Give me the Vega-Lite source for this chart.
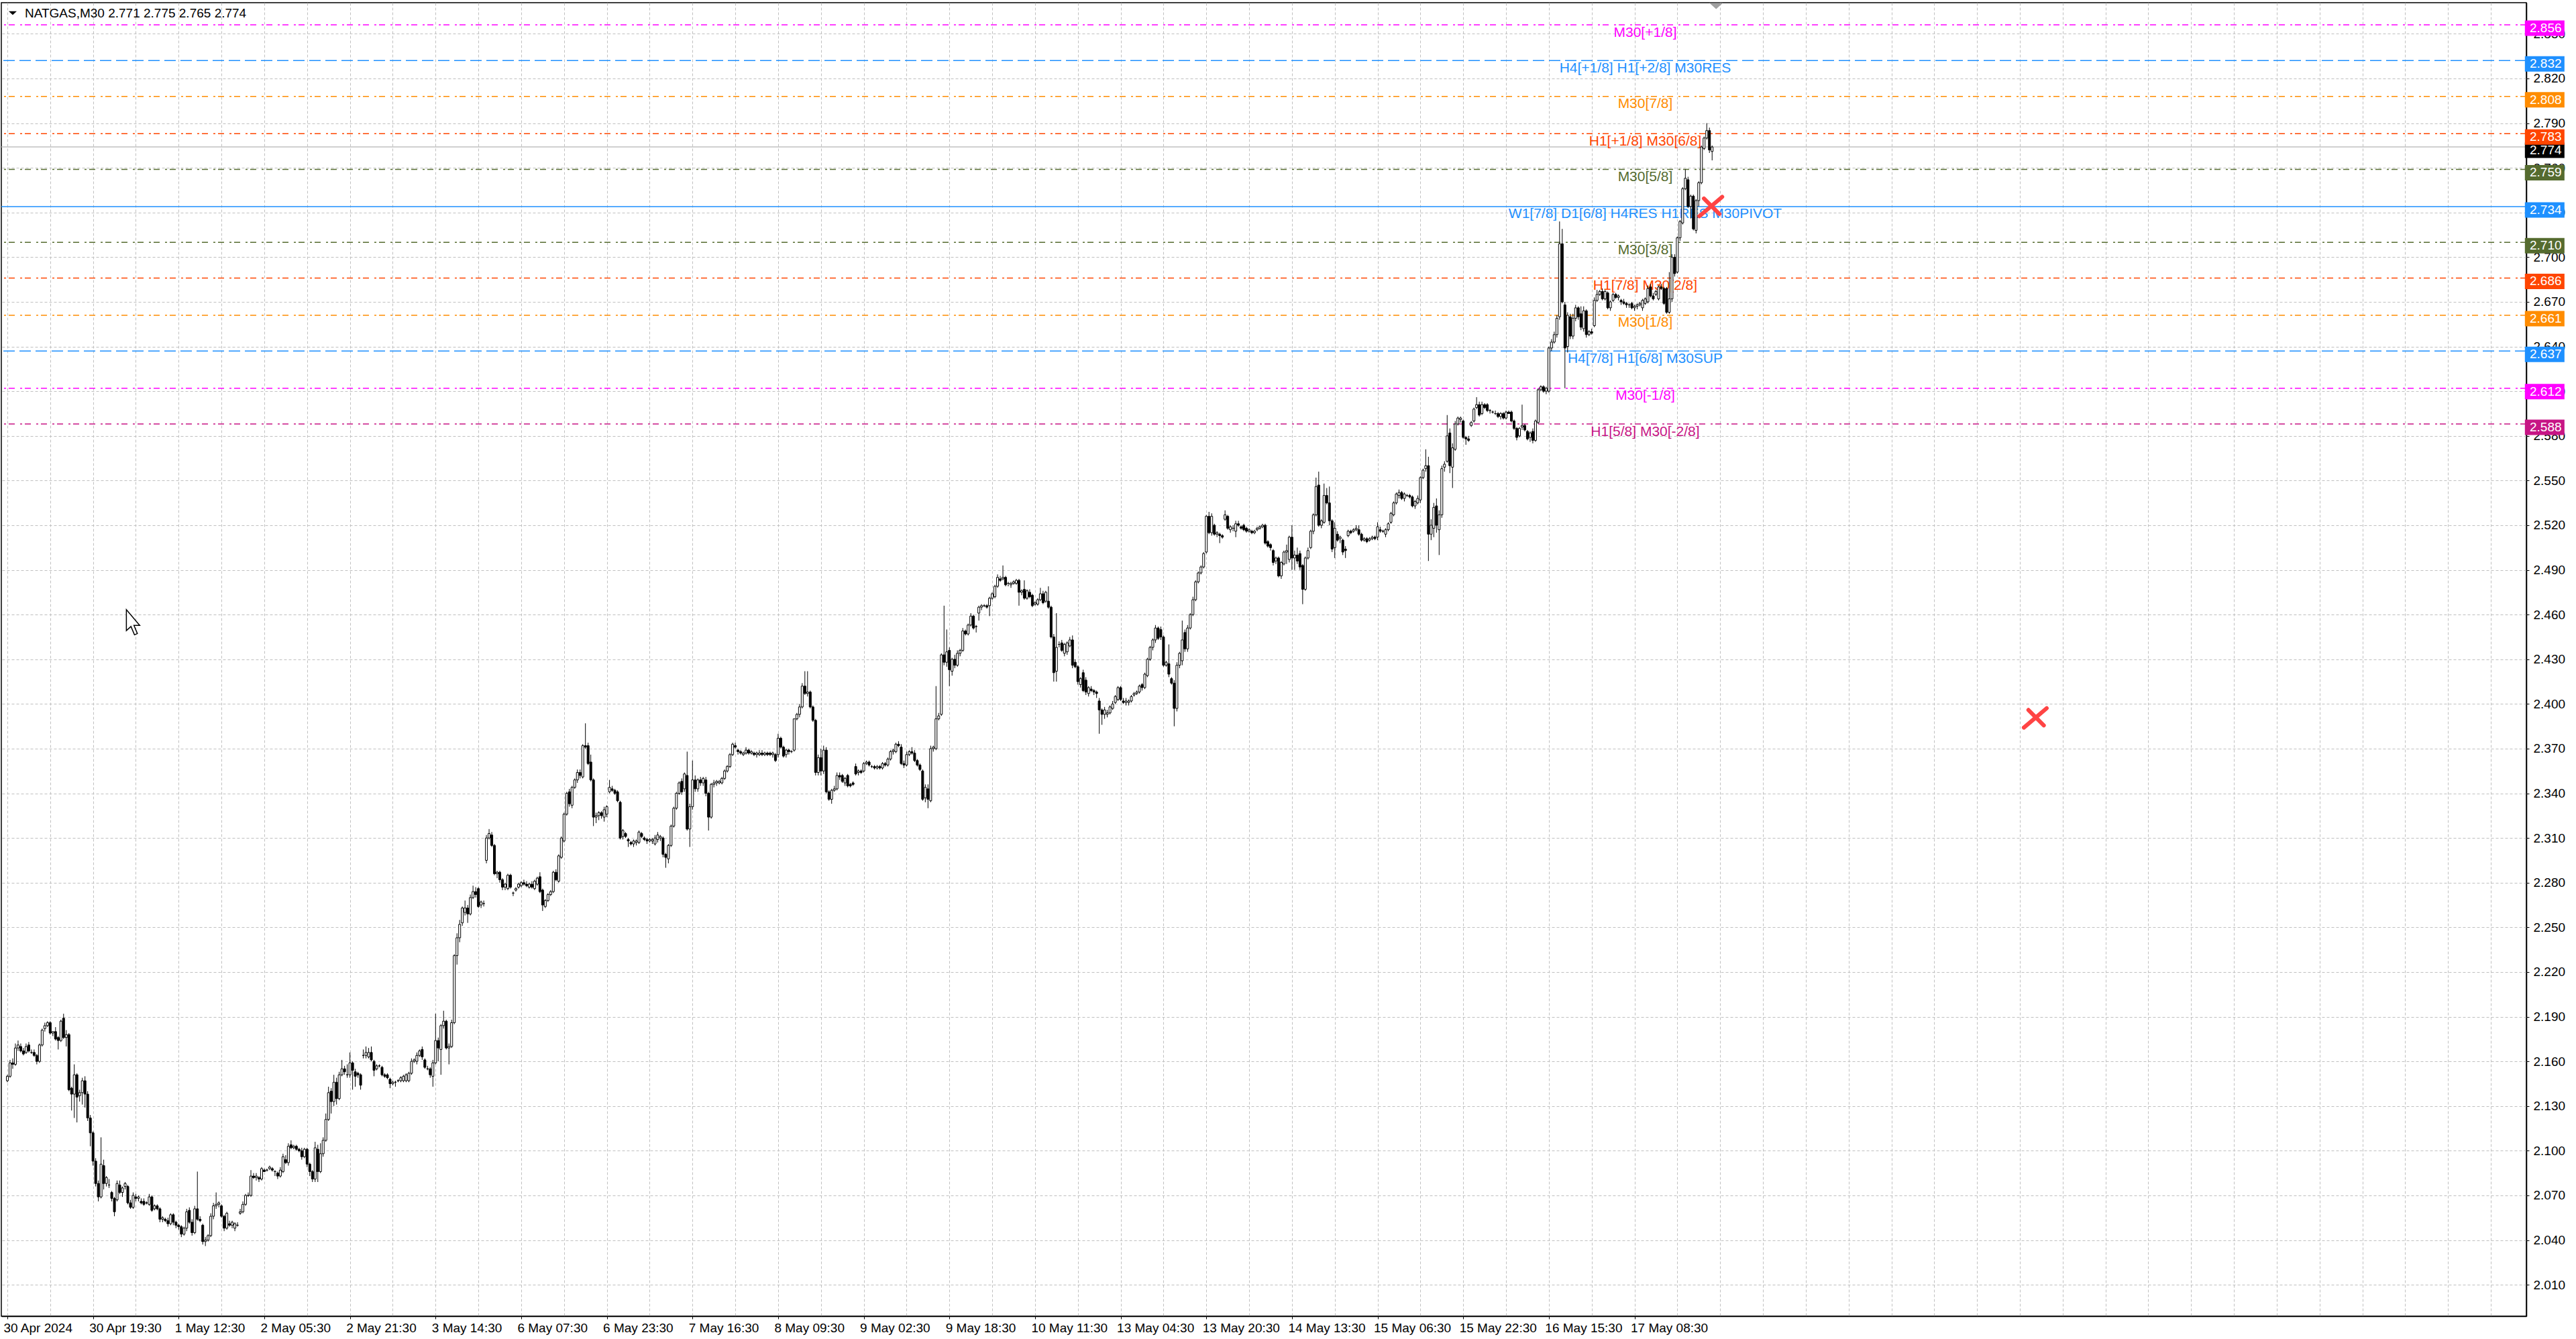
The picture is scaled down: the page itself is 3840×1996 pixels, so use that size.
{
  "$schema": "https://vega.github.io/schema/vega-lite/v6.json",
  "description": "NATGAS M30 candles with Murrey levels, MT4 style",
  "autosize": {"type": "none"},
  "width": 3764,
  "height": 1958,
  "padding": {"left": 2, "top": 4, "right": 74, "bottom": 34},
  "background": "#FFFFFF",
  "config": {
    "font": "Liberation Sans",
    "view": {"stroke": "#000000", "strokeWidth": 1.5},
    "text": {"font": "Liberation Sans"}
  },
  "datasets": {
    "candles": [
      {"i":0,"o":2.147,"h":2.151,"l":2.146,"c":2.150},{"i":1,"o":2.150,"h":2.161,"l":2.149,"c":2.159},{"i":2,"o":2.159,"h":2.162,"l":2.155,"c":2.158},{"i":3,"o":2.158,"h":2.172,"l":2.157,"c":2.169},{"i":4,"o":2.169,"h":2.174,"l":2.167,"c":2.171},{"i":5,"o":2.170,"h":2.172,"l":2.166,"c":2.167},{"i":6,"o":2.167,"h":2.169,"l":2.164,"c":2.165},{"i":7,"o":2.166,"h":2.172,"l":2.165,"c":2.170},{"i":8,"o":2.171,"h":2.173,"l":2.166,"c":2.167},{"i":9,"o":2.166,"h":2.168,"l":2.165,"c":2.166},
      {"i":10,"o":2.166,"h":2.168,"l":2.163,"c":2.164},{"i":11,"o":2.164,"h":2.165,"l":2.158,"c":2.160},{"i":12,"o":2.160,"h":2.172,"l":2.159,"c":2.171},{"i":13,"o":2.171,"h":2.182,"l":2.170,"c":2.181},{"i":14,"o":2.182,"h":2.186,"l":2.180,"c":2.184},{"i":15,"o":2.184,"h":2.187,"l":2.183,"c":2.186},{"i":16,"o":2.186,"h":2.187,"l":2.178,"c":2.179},{"i":17,"o":2.179,"h":2.180,"l":2.177,"c":2.180},{"i":18,"o":2.180,"h":2.183,"l":2.174,"c":2.175},{"i":19,"o":2.176,"h":2.177,"l":2.168,"c":2.174},
      {"i":20,"o":2.174,"h":2.188,"l":2.173,"c":2.187},{"i":21,"o":2.189,"h":2.192,"l":2.175,"c":2.176},{"i":22,"o":2.176,"h":2.181,"l":2.170,"c":2.178},{"i":23,"o":2.178,"h":2.179,"l":2.140,"c":2.141},{"i":24,"o":2.142,"h":2.143,"l":2.127,"c":2.138},{"i":25,"o":2.138,"h":2.158,"l":2.122,"c":2.151},{"i":26,"o":2.151,"h":2.152,"l":2.119,"c":2.136},{"i":27,"o":2.137,"h":2.141,"l":2.133,"c":2.139},{"i":28,"o":2.139,"h":2.149,"l":2.131,"c":2.147},{"i":29,"o":2.147,"h":2.150,"l":2.129,"c":2.138},
      {"i":30,"o":2.138,"h":2.140,"l":2.120,"c":2.122},{"i":31,"o":2.122,"h":2.124,"l":2.103,"c":2.112},{"i":32,"o":2.112,"h":2.113,"l":2.090,"c":2.093},{"i":33,"o":2.093,"h":2.095,"l":2.076,"c":2.078},{"i":34,"o":2.078,"h":2.080,"l":2.066,"c":2.069},{"i":35,"o":2.069,"h":2.109,"l":2.068,"c":2.091},{"i":36,"o":2.090,"h":2.094,"l":2.074,"c":2.078},{"i":37,"o":2.078,"h":2.083,"l":2.076,"c":2.082},{"i":38,"o":2.077,"h":2.081,"l":2.075,"c":2.077},{"i":39,"o":2.072,"h":2.073,"l":2.066,"c":2.068},
      {"i":40,"o":2.068,"h":2.069,"l":2.056,"c":2.059},{"i":41,"o":2.067,"h":2.080,"l":2.066,"c":2.078},{"i":42,"o":2.077,"h":2.080,"l":2.071,"c":2.072},{"i":43,"o":2.072,"h":2.076,"l":2.069,"c":2.075},{"i":44,"o":2.076,"h":2.079,"l":2.074,"c":2.078},{"i":45,"o":2.076,"h":2.077,"l":2.064,"c":2.065},{"i":46,"o":2.065,"h":2.067,"l":2.061,"c":2.062},{"i":47,"o":2.062,"h":2.072,"l":2.061,"c":2.070},{"i":48,"o":2.069,"h":2.071,"l":2.066,"c":2.068},{"i":49,"o":2.068,"h":2.070,"l":2.066,"c":2.069},
      {"i":50,"o":2.066,"h":2.068,"l":2.064,"c":2.065},{"i":51,"o":2.066,"h":2.068,"l":2.063,"c":2.064},{"i":52,"o":2.065,"h":2.066,"l":2.064,"c":2.065},{"i":53,"o":2.064,"h":2.071,"l":2.063,"c":2.069},{"i":54,"o":2.069,"h":2.070,"l":2.059,"c":2.060},{"i":55,"o":2.061,"h":2.064,"l":2.060,"c":2.063},{"i":56,"o":2.063,"h":2.064,"l":2.060,"c":2.061},{"i":57,"o":2.061,"h":2.062,"l":2.052,"c":2.054},{"i":58,"o":2.054,"h":2.056,"l":2.052,"c":2.055},{"i":59,"o":2.054,"h":2.055,"l":2.052,"c":2.053},
      {"i":60,"o":2.053,"h":2.055,"l":2.049,"c":2.051},{"i":61,"o":2.051,"h":2.058,"l":2.050,"c":2.057},{"i":62,"o":2.057,"h":2.058,"l":2.050,"c":2.052},{"i":63,"o":2.052,"h":2.053,"l":2.048,"c":2.050},{"i":64,"o":2.050,"h":2.051,"l":2.047,"c":2.049},{"i":65,"o":2.049,"h":2.050,"l":2.042,"c":2.044},{"i":66,"o":2.044,"h":2.049,"l":2.043,"c":2.048},{"i":67,"o":2.048,"h":2.061,"l":2.046,"c":2.059},{"i":68,"o":2.060,"h":2.062,"l":2.051,"c":2.052},{"i":69,"o":2.052,"h":2.054,"l":2.043,"c":2.045},
      {"i":70,"o":2.045,"h":2.063,"l":2.044,"c":2.061},{"i":71,"o":2.061,"h":2.086,"l":2.053,"c":2.054},{"i":72,"o":2.054,"h":2.056,"l":2.052,"c":2.053},{"i":73,"o":2.050,"h":2.051,"l":2.037,"c":2.039},{"i":74,"o":2.039,"h":2.042,"l":2.036,"c":2.040},{"i":75,"o":2.040,"h":2.044,"l":2.039,"c":2.043},{"i":76,"o":2.043,"h":2.058,"l":2.042,"c":2.056},{"i":77,"o":2.056,"h":2.065,"l":2.054,"c":2.063},{"i":78,"o":2.063,"h":2.072,"l":2.061,"c":2.064},{"i":79,"o":2.064,"h":2.066,"l":2.062,"c":2.065},
      {"i":80,"o":2.063,"h":2.064,"l":2.055,"c":2.056},{"i":81,"o":2.056,"h":2.057,"l":2.046,"c":2.048},{"i":82,"o":2.048,"h":2.059,"l":2.047,"c":2.058},{"i":83,"o":2.051,"h":2.053,"l":2.049,"c":2.050},{"i":84,"o":2.050,"h":2.053,"l":2.048,"c":2.052},{"i":85,"o":2.048,"h":2.052,"l":2.046,"c":2.051},{"i":86,"o":2.050,"h":2.052,"l":2.049,"c":2.050},{"i":87,"o":2.058,"h":2.061,"l":2.057,"c":2.059},{"i":88,"o":2.059,"h":2.066,"l":2.058,"c":2.064},{"i":89,"o":2.064,"h":2.071,"l":2.063,"c":2.070},
      {"i":90,"o":2.070,"h":2.072,"l":2.069,"c":2.070},{"i":91,"o":2.070,"h":2.087,"l":2.069,"c":2.083},{"i":92,"o":2.083,"h":2.085,"l":2.081,"c":2.082},{"i":93,"o":2.082,"h":2.085,"l":2.080,"c":2.083},{"i":94,"o":2.082,"h":2.083,"l":2.079,"c":2.081},{"i":95,"o":2.081,"h":2.089,"l":2.080,"c":2.088},{"i":96,"o":2.087,"h":2.088,"l":2.086,"c":2.086},{"i":97,"o":2.087,"h":2.088,"l":2.086,"c":2.087},{"i":98,"o":2.088,"h":2.090,"l":2.087,"c":2.089},{"i":99,"o":2.088,"h":2.089,"l":2.086,"c":2.087},
      {"i":100,"o":2.086,"h":2.087,"l":2.083,"c":2.086},{"i":101,"o":2.085,"h":2.086,"l":2.081,"c":2.083},{"i":102,"o":2.083,"h":2.089,"l":2.082,"c":2.087},{"i":103,"o":2.086,"h":2.098,"l":2.085,"c":2.096},{"i":104,"o":2.094,"h":2.097,"l":2.091,"c":2.092},{"i":105,"o":2.092,"h":2.105,"l":2.090,"c":2.103},{"i":106,"o":2.104,"h":2.107,"l":2.101,"c":2.102},{"i":107,"o":2.102,"h":2.104,"l":2.101,"c":2.103},{"i":108,"o":2.103,"h":2.104,"l":2.100,"c":2.101},{"i":109,"o":2.101,"h":2.102,"l":2.099,"c":2.100},
      {"i":110,"o":2.100,"h":2.102,"l":2.094,"c":2.096},{"i":111,"o":2.096,"h":2.102,"l":2.095,"c":2.101},{"i":112,"o":2.101,"h":2.102,"l":2.089,"c":2.091},{"i":113,"o":2.091,"h":2.092,"l":2.083,"c":2.086},{"i":114,"o":2.086,"h":2.087,"l":2.079,"c":2.081},{"i":115,"o":2.081,"h":2.106,"l":2.079,"c":2.102},{"i":116,"o":2.101,"h":2.104,"l":2.079,"c":2.086},{"i":117,"o":2.086,"h":2.105,"l":2.085,"c":2.098},{"i":118,"o":2.098,"h":2.109,"l":2.096,"c":2.107},{"i":119,"o":2.107,"h":2.125,"l":2.106,"c":2.121},
      {"i":120,"o":2.121,"h":2.143,"l":2.120,"c":2.139},{"i":121,"o":2.140,"h":2.142,"l":2.125,"c":2.133},{"i":122,"o":2.133,"h":2.151,"l":2.130,"c":2.146},{"i":123,"o":2.146,"h":2.149,"l":2.131,"c":2.135},{"i":124,"o":2.135,"h":2.153,"l":2.134,"c":2.151},{"i":125,"o":2.151,"h":2.161,"l":2.150,"c":2.155},{"i":126,"o":2.155,"h":2.157,"l":2.151,"c":2.153},{"i":127,"o":2.151,"h":2.158,"l":2.149,"c":2.151},{"i":128,"o":2.151,"h":2.166,"l":2.149,"c":2.159},{"i":129,"o":2.159,"h":2.160,"l":2.141,"c":2.154},
      {"i":130,"o":2.153,"h":2.155,"l":2.143,"c":2.150},{"i":131,"o":2.152,"h":2.153,"l":2.149,"c":2.151},{"i":132,"o":2.151,"h":2.152,"l":2.141,"c":2.144},{"i":133,"o":2.164,"h":2.168,"l":2.162,"c":2.164},{"i":134,"o":2.164,"h":2.170,"l":2.162,"c":2.166},{"i":135,"o":2.163,"h":2.169,"l":2.162,"c":2.166},{"i":136,"o":2.166,"h":2.170,"l":2.160,"c":2.161},{"i":137,"o":2.160,"h":2.161,"l":2.150,"c":2.154},{"i":138,"o":2.155,"h":2.158,"l":2.154,"c":2.157},{"i":139,"o":2.157,"h":2.158,"l":2.156,"c":2.157},
      {"i":140,"o":2.156,"h":2.157,"l":2.150,"c":2.151},{"i":141,"o":2.151,"h":2.152,"l":2.149,"c":2.150},{"i":142,"o":2.151,"h":2.152,"l":2.148,"c":2.149},{"i":143,"o":2.148,"h":2.149,"l":2.142,"c":2.145},{"i":144,"o":2.145,"h":2.147,"l":2.144,"c":2.146},{"i":145,"o":2.146,"h":2.147,"l":2.143,"c":2.146},{"i":146,"o":2.147,"h":2.148,"l":2.146,"c":2.147},{"i":147,"o":2.147,"h":2.150,"l":2.146,"c":2.149},{"i":148,"o":2.147,"h":2.151,"l":2.146,"c":2.150},{"i":149,"o":2.147,"h":2.152,"l":2.146,"c":2.151},
      {"i":150,"o":2.147,"h":2.153,"l":2.146,"c":2.152},{"i":151,"o":2.152,"h":2.162,"l":2.151,"c":2.160},{"i":152,"o":2.160,"h":2.162,"l":2.159,"c":2.161},{"i":153,"o":2.160,"h":2.166,"l":2.158,"c":2.164},{"i":154,"o":2.164,"h":2.168,"l":2.163,"c":2.167},{"i":155,"o":2.168,"h":2.170,"l":2.161,"c":2.163},{"i":156,"o":2.161,"h":2.162,"l":2.155,"c":2.156},{"i":157,"o":2.155,"h":2.157,"l":2.154,"c":2.155},{"i":158,"o":2.155,"h":2.156,"l":2.149,"c":2.151},{"i":159,"o":2.150,"h":2.161,"l":2.143,"c":2.159},
      {"i":160,"o":2.159,"h":2.192,"l":2.158,"c":2.174},{"i":161,"o":2.174,"h":2.176,"l":2.160,"c":2.169},{"i":162,"o":2.168,"h":2.185,"l":2.151,"c":2.184},{"i":163,"o":2.184,"h":2.194,"l":2.182,"c":2.187},{"i":164,"o":2.187,"h":2.188,"l":2.168,"c":2.169},{"i":165,"o":2.169,"h":2.172,"l":2.158,"c":2.170},{"i":166,"o":2.170,"h":2.188,"l":2.169,"c":2.186},{"i":167,"o":2.186,"h":2.232,"l":2.185,"c":2.231},{"i":168,"o":2.231,"h":2.246,"l":2.225,"c":2.243},{"i":169,"o":2.243,"h":2.255,"l":2.240,"c":2.252},
      {"i":170,"o":2.253,"h":2.264,"l":2.251,"c":2.263},{"i":171,"o":2.260,"h":2.268,"l":2.258,"c":2.263},{"i":172,"o":2.263,"h":2.265,"l":2.253,"c":2.259},{"i":173,"o":2.259,"h":2.272,"l":2.258,"c":2.270},{"i":174,"o":2.270,"h":2.278,"l":2.269,"c":2.274},{"i":175,"o":2.274,"h":2.277,"l":2.270,"c":2.272},{"i":176,"o":2.276,"h":2.277,"l":2.263,"c":2.264},{"i":177,"o":2.265,"h":2.268,"l":2.263,"c":2.267},{"i":178,"o":2.266,"h":2.268,"l":2.264,"c":2.266},{"i":179,"o":2.295,"h":2.312,"l":2.293,"c":2.310},
      {"i":180,"o":2.310,"h":2.316,"l":2.309,"c":2.313},{"i":181,"o":2.312,"h":2.314,"l":2.304,"c":2.305},{"i":182,"o":2.305,"h":2.306,"l":2.285,"c":2.286},{"i":183,"o":2.286,"h":2.288,"l":2.283,"c":2.287},{"i":184,"o":2.287,"h":2.288,"l":2.280,"c":2.282},{"i":185,"o":2.282,"h":2.283,"l":2.275,"c":2.277},{"i":186,"o":2.277,"h":2.280,"l":2.275,"c":2.279},{"i":187,"o":2.276,"h":2.286,"l":2.275,"c":2.285},{"i":188,"o":2.285,"h":2.286,"l":2.276,"c":2.277},{"i":189,"o":2.273,"h":2.274,"l":2.271,"c":2.273},
      {"i":190,"o":2.275,"h":2.277,"l":2.274,"c":2.276},{"i":191,"o":2.277,"h":2.280,"l":2.276,"c":2.279},{"i":192,"o":2.278,"h":2.281,"l":2.277,"c":2.280},{"i":193,"o":2.280,"h":2.282,"l":2.278,"c":2.279},{"i":194,"o":2.279,"h":2.281,"l":2.277,"c":2.278},{"i":195,"o":2.277,"h":2.280,"l":2.276,"c":2.279},{"i":196,"o":2.279,"h":2.281,"l":2.276,"c":2.277},{"i":197,"o":2.276,"h":2.282,"l":2.275,"c":2.281},{"i":198,"o":2.279,"h":2.284,"l":2.278,"c":2.283},{"i":199,"o":2.284,"h":2.287,"l":2.273,"c":2.274},
      {"i":200,"o":2.275,"h":2.276,"l":2.261,"c":2.265},{"i":201,"o":2.264,"h":2.269,"l":2.263,"c":2.268},{"i":202,"o":2.268,"h":2.273,"l":2.267,"c":2.272},{"i":203,"o":2.272,"h":2.275,"l":2.271,"c":2.274},{"i":204,"o":2.274,"h":2.288,"l":2.273,"c":2.287},{"i":205,"o":2.287,"h":2.289,"l":2.281,"c":2.282},{"i":206,"o":2.281,"h":2.299,"l":2.280,"c":2.298},{"i":207,"o":2.297,"h":2.311,"l":2.296,"c":2.310},{"i":208,"o":2.308,"h":2.327,"l":2.307,"c":2.326},{"i":209,"o":2.326,"h":2.341,"l":2.325,"c":2.340},
      {"i":210,"o":2.341,"h":2.343,"l":2.331,"c":2.333},{"i":211,"o":2.332,"h":2.345,"l":2.330,"c":2.344},{"i":212,"o":2.344,"h":2.350,"l":2.343,"c":2.349},{"i":213,"o":2.349,"h":2.356,"l":2.347,"c":2.354},{"i":214,"o":2.354,"h":2.356,"l":2.350,"c":2.352},{"i":215,"o":2.351,"h":2.373,"l":2.350,"c":2.372},{"i":216,"o":2.372,"h":2.387,"l":2.370,"c":2.371},{"i":217,"o":2.372,"h":2.374,"l":2.359,"c":2.360},{"i":218,"o":2.361,"h":2.366,"l":2.348,"c":2.349},{"i":219,"o":2.349,"h":2.350,"l":2.318,"c":2.324},
      {"i":220,"o":2.324,"h":2.327,"l":2.320,"c":2.325},{"i":221,"o":2.325,"h":2.328,"l":2.322,"c":2.327},{"i":222,"o":2.327,"h":2.328,"l":2.323,"c":2.325},{"i":223,"o":2.324,"h":2.331,"l":2.321,"c":2.329},{"i":224,"o":2.326,"h":2.332,"l":2.324,"c":2.331},{"i":225,"o":2.341,"h":2.349,"l":2.340,"c":2.344},{"i":226,"o":2.343,"h":2.345,"l":2.341,"c":2.342},{"i":227,"o":2.342,"h":2.343,"l":2.339,"c":2.340},{"i":228,"o":2.341,"h":2.342,"l":2.334,"c":2.335},{"i":229,"o":2.334,"h":2.335,"l":2.309,"c":2.310},
      {"i":230,"o":2.311,"h":2.316,"l":2.309,"c":2.315},{"i":231,"o":2.313,"h":2.314,"l":2.310,"c":2.311},{"i":232,"o":2.309,"h":2.310,"l":2.304,"c":2.308},{"i":233,"o":2.307,"h":2.308,"l":2.305,"c":2.306},{"i":234,"o":2.306,"h":2.309,"l":2.304,"c":2.308},{"i":235,"o":2.307,"h":2.309,"l":2.305,"c":2.308},{"i":236,"o":2.307,"h":2.315,"l":2.306,"c":2.314},{"i":237,"o":2.313,"h":2.314,"l":2.310,"c":2.311},{"i":238,"o":2.310,"h":2.311,"l":2.308,"c":2.309},{"i":239,"o":2.309,"h":2.310,"l":2.306,"c":2.308},
      {"i":240,"o":2.308,"h":2.310,"l":2.307,"c":2.309},{"i":241,"o":2.308,"h":2.310,"l":2.306,"c":2.309},{"i":242,"o":2.306,"h":2.312,"l":2.305,"c":2.310},{"i":243,"o":2.309,"h":2.314,"l":2.307,"c":2.312},{"i":244,"o":2.310,"h":2.312,"l":2.308,"c":2.311},{"i":245,"o":2.310,"h":2.311,"l":2.297,"c":2.299},{"i":246,"o":2.299,"h":2.300,"l":2.290,"c":2.297},{"i":247,"o":2.296,"h":2.306,"l":2.293,"c":2.305},{"i":248,"o":2.305,"h":2.319,"l":2.304,"c":2.318},{"i":249,"o":2.318,"h":2.331,"l":2.317,"c":2.330},
      {"i":250,"o":2.330,"h":2.341,"l":2.329,"c":2.340},{"i":251,"o":2.340,"h":2.348,"l":2.339,"c":2.347},{"i":252,"o":2.348,"h":2.350,"l":2.339,"c":2.341},{"i":253,"o":2.343,"h":2.354,"l":2.341,"c":2.353},{"i":254,"o":2.352,"h":2.368,"l":2.315,"c":2.316},{"i":255,"o":2.316,"h":2.333,"l":2.304,"c":2.331},{"i":256,"o":2.331,"h":2.362,"l":2.329,"c":2.349},{"i":257,"o":2.349,"h":2.352,"l":2.341,"c":2.343},{"i":258,"o":2.343,"h":2.350,"l":2.341,"c":2.349},{"i":259,"o":2.349,"h":2.351,"l":2.345,"c":2.347},
      {"i":260,"o":2.347,"h":2.351,"l":2.345,"c":2.350},{"i":261,"o":2.349,"h":2.351,"l":2.338,"c":2.340},{"i":262,"o":2.340,"h":2.341,"l":2.315,"c":2.324},{"i":263,"o":2.324,"h":2.347,"l":2.323,"c":2.346},{"i":264,"o":2.346,"h":2.349,"l":2.344,"c":2.347},{"i":265,"o":2.347,"h":2.349,"l":2.345,"c":2.348},{"i":266,"o":2.347,"h":2.349,"l":2.346,"c":2.348},{"i":267,"o":2.347,"h":2.351,"l":2.346,"c":2.350},{"i":268,"o":2.350,"h":2.356,"l":2.349,"c":2.355},{"i":269,"o":2.355,"h":2.359,"l":2.354,"c":2.358},
      {"i":270,"o":2.358,"h":2.367,"l":2.357,"c":2.366},{"i":271,"o":2.366,"h":2.374,"l":2.365,"c":2.373},{"i":272,"o":2.372,"h":2.374,"l":2.370,"c":2.371},{"i":273,"o":2.369,"h":2.370,"l":2.366,"c":2.368},{"i":274,"o":2.368,"h":2.369,"l":2.366,"c":2.367},{"i":275,"o":2.366,"h":2.368,"l":2.365,"c":2.367},{"i":276,"o":2.367,"h":2.371,"l":2.366,"c":2.369},{"i":277,"o":2.369,"h":2.370,"l":2.366,"c":2.367},{"i":278,"o":2.367,"h":2.369,"l":2.366,"c":2.368},{"i":279,"o":2.367,"h":2.368,"l":2.365,"c":2.366},
      {"i":280,"o":2.366,"h":2.368,"l":2.364,"c":2.367},{"i":281,"o":2.366,"h":2.369,"l":2.365,"c":2.367},{"i":282,"o":2.367,"h":2.369,"l":2.365,"c":2.366},{"i":283,"o":2.366,"h":2.368,"l":2.365,"c":2.367},{"i":284,"o":2.367,"h":2.368,"l":2.365,"c":2.366},{"i":285,"o":2.367,"h":2.368,"l":2.365,"c":2.366},{"i":286,"o":2.366,"h":2.368,"l":2.364,"c":2.367},{"i":287,"o":2.366,"h":2.367,"l":2.361,"c":2.362},{"i":288,"o":2.366,"h":2.380,"l":2.364,"c":2.377},{"i":289,"o":2.377,"h":2.378,"l":2.370,"c":2.371},
      {"i":290,"o":2.371,"h":2.372,"l":2.364,"c":2.365},{"i":291,"o":2.366,"h":2.370,"l":2.364,"c":2.369},{"i":292,"o":2.369,"h":2.370,"l":2.366,"c":2.368},{"i":293,"o":2.368,"h":2.369,"l":2.367,"c":2.368},{"i":294,"o":2.369,"h":2.390,"l":2.368,"c":2.390},{"i":295,"o":2.390,"h":2.394,"l":2.389,"c":2.393},{"i":296,"o":2.393,"h":2.400,"l":2.391,"c":2.398},{"i":297,"o":2.398,"h":2.414,"l":2.397,"c":2.412},{"i":298,"o":2.412,"h":2.422,"l":2.406,"c":2.407},{"i":299,"o":2.407,"h":2.422,"l":2.405,"c":2.408},
      {"i":300,"o":2.408,"h":2.409,"l":2.397,"c":2.398},{"i":301,"o":2.398,"h":2.399,"l":2.388,"c":2.389},{"i":302,"o":2.389,"h":2.390,"l":2.352,"c":2.354},{"i":303,"o":2.354,"h":2.366,"l":2.352,"c":2.364},{"i":304,"o":2.364,"h":2.370,"l":2.352,"c":2.355},{"i":305,"o":2.355,"h":2.372,"l":2.353,"c":2.369},{"i":306,"o":2.369,"h":2.371,"l":2.340,"c":2.341},{"i":307,"o":2.341,"h":2.342,"l":2.335,"c":2.336},{"i":308,"o":2.336,"h":2.343,"l":2.333,"c":2.342},{"i":309,"o":2.342,"h":2.345,"l":2.341,"c":2.343},
      {"i":310,"o":2.343,"h":2.354,"l":2.342,"c":2.352},{"i":311,"o":2.352,"h":2.354,"l":2.349,"c":2.351},{"i":312,"o":2.352,"h":2.353,"l":2.347,"c":2.348},{"i":313,"o":2.347,"h":2.351,"l":2.345,"c":2.350},{"i":314,"o":2.352,"h":2.353,"l":2.344,"c":2.345},{"i":315,"o":2.346,"h":2.347,"l":2.344,"c":2.345},{"i":316,"o":2.347,"h":2.348,"l":2.345,"c":2.346},{"i":317,"o":2.358,"h":2.360,"l":2.352,"c":2.353},{"i":318,"o":2.354,"h":2.356,"l":2.352,"c":2.355},{"i":319,"o":2.355,"h":2.356,"l":2.353,"c":2.354},
      {"i":320,"o":2.355,"h":2.361,"l":2.354,"c":2.360},{"i":321,"o":2.360,"h":2.362,"l":2.359,"c":2.361},{"i":322,"o":2.361,"h":2.362,"l":2.358,"c":2.359},{"i":323,"o":2.358,"h":2.359,"l":2.357,"c":2.358},{"i":324,"o":2.358,"h":2.359,"l":2.356,"c":2.357},{"i":325,"o":2.357,"h":2.359,"l":2.356,"c":2.358},{"i":326,"o":2.358,"h":2.359,"l":2.356,"c":2.357},{"i":327,"o":2.357,"h":2.361,"l":2.356,"c":2.360},{"i":328,"o":2.360,"h":2.361,"l":2.358,"c":2.359},{"i":329,"o":2.359,"h":2.364,"l":2.358,"c":2.363},
      {"i":330,"o":2.363,"h":2.369,"l":2.362,"c":2.368},{"i":331,"o":2.368,"h":2.370,"l":2.366,"c":2.369},{"i":332,"o":2.368,"h":2.374,"l":2.367,"c":2.373},{"i":333,"o":2.373,"h":2.375,"l":2.371,"c":2.372},{"i":334,"o":2.371,"h":2.373,"l":2.359,"c":2.360},{"i":335,"o":2.360,"h":2.362,"l":2.357,"c":2.359},{"i":336,"o":2.359,"h":2.368,"l":2.358,"c":2.366},{"i":337,"o":2.366,"h":2.369,"l":2.365,"c":2.368},{"i":338,"o":2.368,"h":2.371,"l":2.366,"c":2.367},{"i":339,"o":2.367,"h":2.369,"l":2.361,"c":2.362},
      {"i":340,"o":2.362,"h":2.363,"l":2.358,"c":2.359},{"i":341,"o":2.359,"h":2.360,"l":2.355,"c":2.356},{"i":342,"o":2.355,"h":2.356,"l":2.335,"c":2.336},{"i":343,"o":2.337,"h":2.346,"l":2.334,"c":2.344},{"i":344,"o":2.343,"h":2.346,"l":2.330,"c":2.336},{"i":345,"o":2.335,"h":2.372,"l":2.334,"c":2.370},{"i":346,"o":2.370,"h":2.372,"l":2.368,"c":2.371},{"i":347,"o":2.370,"h":2.412,"l":2.369,"c":2.390},{"i":348,"o":2.390,"h":2.394,"l":2.389,"c":2.392},{"i":349,"o":2.393,"h":2.434,"l":2.392,"c":2.433},
      {"i":350,"o":2.433,"h":2.466,"l":2.426,"c":2.428},{"i":351,"o":2.428,"h":2.450,"l":2.425,"c":2.435},{"i":352,"o":2.436,"h":2.438,"l":2.412,"c":2.423},{"i":353,"o":2.422,"h":2.431,"l":2.419,"c":2.430},{"i":354,"o":2.430,"h":2.433,"l":2.424,"c":2.426},{"i":355,"o":2.426,"h":2.436,"l":2.425,"c":2.434},{"i":356,"o":2.434,"h":2.437,"l":2.432,"c":2.436},{"i":357,"o":2.436,"h":2.451,"l":2.435,"c":2.449},{"i":358,"o":2.449,"h":2.450,"l":2.446,"c":2.447},{"i":359,"o":2.447,"h":2.454,"l":2.446,"c":2.453},
      {"i":360,"o":2.453,"h":2.461,"l":2.452,"c":2.459},{"i":361,"o":2.459,"h":2.460,"l":2.450,"c":2.451},{"i":362,"o":2.452,"h":2.453,"l":2.448,"c":2.452},{"i":363,"o":2.461,"h":2.466,"l":2.456,"c":2.465},{"i":364,"o":2.465,"h":2.467,"l":2.463,"c":2.466},{"i":365,"o":2.466,"h":2.467,"l":2.465,"c":2.466},{"i":366,"o":2.466,"h":2.467,"l":2.464,"c":2.465},{"i":367,"o":2.466,"h":2.472,"l":2.459,"c":2.471},{"i":368,"o":2.471,"h":2.475,"l":2.470,"c":2.474},{"i":369,"o":2.472,"h":2.480,"l":2.471,"c":2.479},
      {"i":370,"o":2.479,"h":2.487,"l":2.478,"c":2.485},{"i":371,"o":2.484,"h":2.486,"l":2.482,"c":2.483},{"i":372,"o":2.484,"h":2.493,"l":2.483,"c":2.485},{"i":373,"o":2.485,"h":2.486,"l":2.479,"c":2.480},{"i":374,"o":2.481,"h":2.482,"l":2.479,"c":2.481},{"i":375,"o":2.480,"h":2.482,"l":2.478,"c":2.481},{"i":376,"o":2.481,"h":2.483,"l":2.480,"c":2.482},{"i":377,"o":2.481,"h":2.484,"l":2.480,"c":2.483},{"i":378,"o":2.483,"h":2.484,"l":2.466,"c":2.475},{"i":379,"o":2.475,"h":2.477,"l":2.473,"c":2.476},
      {"i":380,"o":2.477,"h":2.483,"l":2.470,"c":2.471},{"i":381,"o":2.471,"h":2.477,"l":2.470,"c":2.476},{"i":382,"o":2.475,"h":2.477,"l":2.471,"c":2.472},{"i":383,"o":2.473,"h":2.474,"l":2.465,"c":2.466},{"i":384,"o":2.467,"h":2.469,"l":2.466,"c":2.468},{"i":385,"o":2.467,"h":2.471,"l":2.466,"c":2.470},{"i":386,"o":2.470,"h":2.478,"l":2.469,"c":2.474},{"i":387,"o":2.474,"h":2.476,"l":2.467,"c":2.468},{"i":388,"o":2.469,"h":2.476,"l":2.468,"c":2.475},{"i":389,"o":2.469,"h":2.479,"l":2.464,"c":2.465},
      {"i":390,"o":2.465,"h":2.466,"l":2.444,"c":2.445},{"i":391,"o":2.445,"h":2.447,"l":2.415,"c":2.421},{"i":392,"o":2.422,"h":2.461,"l":2.415,"c":2.438},{"i":393,"o":2.440,"h":2.442,"l":2.438,"c":2.440},{"i":394,"o":2.441,"h":2.443,"l":2.435,"c":2.436},{"i":395,"o":2.434,"h":2.441,"l":2.432,"c":2.440},{"i":396,"o":2.435,"h":2.442,"l":2.433,"c":2.441},{"i":397,"o":2.439,"h":2.445,"l":2.438,"c":2.443},{"i":398,"o":2.443,"h":2.446,"l":2.424,"c":2.426},{"i":399,"o":2.428,"h":2.430,"l":2.424,"c":2.425},
      {"i":400,"o":2.425,"h":2.426,"l":2.413,"c":2.415},{"i":401,"o":2.413,"h":2.418,"l":2.411,"c":2.417},{"i":402,"o":2.421,"h":2.423,"l":2.408,"c":2.409},{"i":403,"o":2.416,"h":2.418,"l":2.406,"c":2.408},{"i":404,"o":2.407,"h":2.412,"l":2.405,"c":2.411},{"i":405,"o":2.410,"h":2.412,"l":2.408,"c":2.409},{"i":406,"o":2.409,"h":2.410,"l":2.406,"c":2.408},{"i":407,"o":2.408,"h":2.409,"l":2.404,"c":2.407},{"i":408,"o":2.402,"h":2.404,"l":2.380,"c":2.396},{"i":409,"o":2.396,"h":2.397,"l":2.386,"c":2.393},
      {"i":410,"o":2.393,"h":2.398,"l":2.390,"c":2.396},{"i":411,"o":2.393,"h":2.396,"l":2.391,"c":2.394},{"i":412,"o":2.394,"h":2.399,"l":2.393,"c":2.398},{"i":413,"o":2.397,"h":2.402,"l":2.396,"c":2.400},{"i":414,"o":2.401,"h":2.406,"l":2.400,"c":2.405},{"i":415,"o":2.403,"h":2.412,"l":2.402,"c":2.411},{"i":416,"o":2.411,"h":2.412,"l":2.402,"c":2.403},{"i":417,"o":2.402,"h":2.404,"l":2.400,"c":2.401},{"i":418,"o":2.401,"h":2.404,"l":2.399,"c":2.402},{"i":419,"o":2.401,"h":2.403,"l":2.399,"c":2.402},
      {"i":420,"o":2.402,"h":2.406,"l":2.401,"c":2.405},{"i":421,"o":2.406,"h":2.408,"l":2.405,"c":2.407},{"i":422,"o":2.407,"h":2.409,"l":2.406,"c":2.408},{"i":423,"o":2.408,"h":2.413,"l":2.407,"c":2.412},{"i":424,"o":2.413,"h":2.414,"l":2.409,"c":2.411},{"i":425,"o":2.411,"h":2.421,"l":2.410,"c":2.420},{"i":426,"o":2.419,"h":2.431,"l":2.418,"c":2.430},{"i":427,"o":2.430,"h":2.439,"l":2.429,"c":2.438},{"i":428,"o":2.438,"h":2.444,"l":2.436,"c":2.443},{"i":429,"o":2.443,"h":2.453,"l":2.441,"c":2.451},
      {"i":430,"o":2.451,"h":2.452,"l":2.443,"c":2.444},{"i":431,"o":2.450,"h":2.452,"l":2.443,"c":2.445},{"i":432,"o":2.445,"h":2.446,"l":2.425,"c":2.426},{"i":433,"o":2.426,"h":2.429,"l":2.425,"c":2.428},{"i":434,"o":2.427,"h":2.440,"l":2.418,"c":2.420},{"i":435,"o":2.417,"h":2.418,"l":2.413,"c":2.414},{"i":436,"o":2.414,"h":2.416,"l":2.385,"c":2.397},{"i":437,"o":2.397,"h":2.428,"l":2.395,"c":2.426},{"i":438,"o":2.426,"h":2.435,"l":2.424,"c":2.434},{"i":439,"o":2.429,"h":2.456,"l":2.426,"c":2.443},
      {"i":440,"o":2.448,"h":2.450,"l":2.435,"c":2.437},{"i":441,"o":2.437,"h":2.453,"l":2.435,"c":2.451},{"i":442,"o":2.451,"h":2.461,"l":2.450,"c":2.460},{"i":443,"o":2.460,"h":2.472,"l":2.459,"c":2.470},{"i":444,"o":2.470,"h":2.483,"l":2.469,"c":2.482},{"i":445,"o":2.482,"h":2.489,"l":2.481,"c":2.488},{"i":446,"o":2.488,"h":2.493,"l":2.487,"c":2.492},{"i":447,"o":2.492,"h":2.502,"l":2.491,"c":2.501},{"i":448,"o":2.502,"h":2.527,"l":2.501,"c":2.526},{"i":449,"o":2.526,"h":2.529,"l":2.514,"c":2.515},
      {"i":450,"o":2.515,"h":2.528,"l":2.513,"c":2.526},{"i":451,"o":2.520,"h":2.521,"l":2.513,"c":2.514},{"i":452,"o":2.514,"h":2.516,"l":2.512,"c":2.515},{"i":453,"o":2.514,"h":2.515,"l":2.508,"c":2.513},{"i":454,"o":2.513,"h":2.514,"l":2.511,"c":2.512},{"i":455,"o":2.524,"h":2.530,"l":2.523,"c":2.527},{"i":456,"o":2.526,"h":2.527,"l":2.517,"c":2.518},{"i":457,"o":2.517,"h":2.520,"l":2.515,"c":2.519},{"i":458,"o":2.518,"h":2.520,"l":2.516,"c":2.518},{"i":459,"o":2.516,"h":2.523,"l":2.512,"c":2.521},
      {"i":460,"o":2.521,"h":2.523,"l":2.519,"c":2.520},{"i":461,"o":2.519,"h":2.520,"l":2.517,"c":2.518},{"i":462,"o":2.520,"h":2.521,"l":2.516,"c":2.517},{"i":463,"o":2.518,"h":2.519,"l":2.515,"c":2.516},{"i":464,"o":2.516,"h":2.518,"l":2.515,"c":2.517},{"i":465,"o":2.516,"h":2.517,"l":2.514,"c":2.515},{"i":466,"o":2.515,"h":2.517,"l":2.514,"c":2.516},{"i":467,"o":2.517,"h":2.519,"l":2.516,"c":2.518},{"i":468,"o":2.518,"h":2.520,"l":2.517,"c":2.519},{"i":469,"o":2.519,"h":2.521,"l":2.518,"c":2.520},
      {"i":470,"o":2.520,"h":2.521,"l":2.507,"c":2.508},{"i":471,"o":2.509,"h":2.510,"l":2.505,"c":2.506},{"i":472,"o":2.507,"h":2.508,"l":2.503,"c":2.505},{"i":473,"o":2.503,"h":2.504,"l":2.493,"c":2.495},{"i":474,"o":2.496,"h":2.499,"l":2.494,"c":2.498},{"i":475,"o":2.498,"h":2.499,"l":2.485,"c":2.486},{"i":476,"o":2.486,"h":2.496,"l":2.484,"c":2.495},{"i":477,"o":2.494,"h":2.503,"l":2.493,"c":2.502},{"i":478,"o":2.502,"h":2.507,"l":2.494,"c":2.503},{"i":479,"o":2.497,"h":2.513,"l":2.495,"c":2.512},
      {"i":480,"o":2.512,"h":2.520,"l":2.490,"c":2.498},{"i":481,"o":2.498,"h":2.503,"l":2.490,"c":2.500},{"i":482,"o":2.500,"h":2.505,"l":2.494,"c":2.496},{"i":483,"o":2.501,"h":2.503,"l":2.490,"c":2.492},{"i":484,"o":2.493,"h":2.494,"l":2.467,"c":2.477},{"i":485,"o":2.477,"h":2.499,"l":2.476,"c":2.498},{"i":486,"o":2.498,"h":2.505,"l":2.497,"c":2.503},{"i":487,"o":2.505,"h":2.517,"l":2.504,"c":2.516},{"i":488,"o":2.516,"h":2.528,"l":2.514,"c":2.527},{"i":489,"o":2.527,"h":2.552,"l":2.526,"c":2.546},
      {"i":490,"o":2.547,"h":2.556,"l":2.519,"c":2.520},{"i":491,"o":2.520,"h":2.524,"l":2.518,"c":2.523},{"i":492,"o":2.522,"h":2.548,"l":2.521,"c":2.540},{"i":493,"o":2.540,"h":2.545,"l":2.534,"c":2.535},{"i":494,"o":2.535,"h":2.546,"l":2.520,"c":2.523},{"i":495,"o":2.523,"h":2.524,"l":2.502,"c":2.504},{"i":496,"o":2.505,"h":2.522,"l":2.498,"c":2.518},{"i":497,"o":2.514,"h":2.516,"l":2.509,"c":2.510},{"i":498,"o":2.511,"h":2.513,"l":2.508,"c":2.512},{"i":499,"o":2.510,"h":2.511,"l":2.500,"c":2.502},
      {"i":500,"o":2.504,"h":2.506,"l":2.498,"c":2.503},{"i":501,"o":2.513,"h":2.517,"l":2.512,"c":2.516},{"i":502,"o":2.516,"h":2.517,"l":2.514,"c":2.515},{"i":503,"o":2.516,"h":2.518,"l":2.515,"c":2.517},{"i":504,"o":2.517,"h":2.520,"l":2.516,"c":2.518},{"i":505,"o":2.517,"h":2.520,"l":2.513,"c":2.514},{"i":506,"o":2.514,"h":2.515,"l":2.509,"c":2.510},{"i":507,"o":2.510,"h":2.512,"l":2.509,"c":2.511},{"i":508,"o":2.511,"h":2.512,"l":2.508,"c":2.509},{"i":509,"o":2.510,"h":2.512,"l":2.509,"c":2.511},
      {"i":510,"o":2.511,"h":2.513,"l":2.510,"c":2.512},{"i":511,"o":2.512,"h":2.513,"l":2.510,"c":2.511},{"i":512,"o":2.512,"h":2.522,"l":2.510,"c":2.519},{"i":513,"o":2.517,"h":2.519,"l":2.515,"c":2.516},{"i":514,"o":2.516,"h":2.517,"l":2.515,"c":2.516},{"i":515,"o":2.514,"h":2.518,"l":2.512,"c":2.517},{"i":516,"o":2.517,"h":2.522,"l":2.516,"c":2.521},{"i":517,"o":2.522,"h":2.529,"l":2.521,"c":2.528},{"i":518,"o":2.527,"h":2.536,"l":2.526,"c":2.535},{"i":519,"o":2.535,"h":2.542,"l":2.534,"c":2.541},
      {"i":520,"o":2.540,"h":2.544,"l":2.538,"c":2.542},{"i":521,"o":2.542,"h":2.543,"l":2.537,"c":2.538},{"i":522,"o":2.538,"h":2.542,"l":2.536,"c":2.541},{"i":523,"o":2.540,"h":2.541,"l":2.539,"c":2.540},{"i":524,"o":2.540,"h":2.541,"l":2.538,"c":2.539},{"i":525,"o":2.539,"h":2.540,"l":2.532,"c":2.533},{"i":526,"o":2.533,"h":2.537,"l":2.531,"c":2.536},{"i":527,"o":2.535,"h":2.540,"l":2.534,"c":2.538},{"i":528,"o":2.537,"h":2.553,"l":2.535,"c":2.552},{"i":529,"o":2.552,"h":2.558,"l":2.551,"c":2.557},
      {"i":530,"o":2.558,"h":2.571,"l":2.556,"c":2.560},{"i":531,"o":2.560,"h":2.566,"l":2.496,"c":2.514},{"i":532,"o":2.514,"h":2.524,"l":2.510,"c":2.520},{"i":533,"o":2.518,"h":2.535,"l":2.512,"c":2.532},{"i":534,"o":2.533,"h":2.538,"l":2.515,"c":2.520},{"i":535,"o":2.517,"h":2.530,"l":2.500,"c":2.527},{"i":536,"o":2.527,"h":2.560,"l":2.525,"c":2.558},{"i":537,"o":2.559,"h":2.563,"l":2.556,"c":2.561},{"i":538,"o":2.563,"h":2.594,"l":2.562,"c":2.580},{"i":539,"o":2.582,"h":2.585,"l":2.555,"c":2.560},
      {"i":540,"o":2.559,"h":2.575,"l":2.545,"c":2.572},{"i":541,"o":2.571,"h":2.590,"l":2.570,"c":2.588},{"i":542,"o":2.588,"h":2.593,"l":2.587,"c":2.592},{"i":543,"o":2.591,"h":2.593,"l":2.589,"c":2.592},{"i":544,"o":2.590,"h":2.591,"l":2.578,"c":2.579},{"i":545,"o":2.579,"h":2.580,"l":2.574,"c":2.578},{"i":546,"o":2.578,"h":2.580,"l":2.576,"c":2.577},{"i":547,"o":2.587,"h":2.590,"l":2.586,"c":2.589},{"i":548,"o":2.590,"h":2.599,"l":2.589,"c":2.598},{"i":549,"o":2.599,"h":2.606,"l":2.598,"c":2.601},
      {"i":550,"o":2.601,"h":2.603,"l":2.593,"c":2.594},{"i":551,"o":2.595,"h":2.603,"l":2.594,"c":2.601},{"i":552,"o":2.601,"h":2.602,"l":2.598,"c":2.599},{"i":553,"o":2.601,"h":2.602,"l":2.596,"c":2.597},{"i":554,"o":2.597,"h":2.598,"l":2.595,"c":2.597},{"i":555,"o":2.596,"h":2.597,"l":2.595,"c":2.596},{"i":556,"o":2.595,"h":2.597,"l":2.594,"c":2.595},{"i":557,"o":2.595,"h":2.596,"l":2.592,"c":2.593},{"i":558,"o":2.593,"h":2.596,"l":2.591,"c":2.595},{"i":559,"o":2.595,"h":2.596,"l":2.591,"c":2.592},
      {"i":560,"o":2.592,"h":2.597,"l":2.591,"c":2.596},{"i":561,"o":2.596,"h":2.597,"l":2.595,"c":2.595},{"i":562,"o":2.596,"h":2.597,"l":2.589,"c":2.590},{"i":563,"o":2.590,"h":2.591,"l":2.584,"c":2.585},{"i":564,"o":2.585,"h":2.586,"l":2.577,"c":2.579},{"i":565,"o":2.580,"h":2.586,"l":2.579,"c":2.585},{"i":566,"o":2.586,"h":2.601,"l":2.584,"c":2.587},{"i":567,"o":2.587,"h":2.588,"l":2.583,"c":2.584},{"i":568,"o":2.583,"h":2.584,"l":2.577,"c":2.578},{"i":569,"o":2.579,"h":2.583,"l":2.576,"c":2.582},
      {"i":570,"o":2.583,"h":2.585,"l":2.575,"c":2.577},{"i":571,"o":2.577,"h":2.591,"l":2.576,"c":2.590},{"i":572,"o":2.589,"h":2.612,"l":2.588,"c":2.611},{"i":573,"o":2.611,"h":2.614,"l":2.610,"c":2.613},{"i":574,"o":2.613,"h":2.614,"l":2.609,"c":2.610},{"i":575,"o":2.610,"h":2.613,"l":2.608,"c":2.612},{"i":576,"o":2.610,"h":2.640,"l":2.609,"c":2.639},{"i":577,"o":2.639,"h":2.645,"l":2.637,"c":2.643},{"i":578,"o":2.643,"h":2.650,"l":2.642,"c":2.648},{"i":579,"o":2.648,"h":2.661,"l":2.646,"c":2.659},
      {"i":580,"o":2.660,"h":2.724,"l":2.658,"c":2.709},{"i":581,"o":2.709,"h":2.719,"l":2.669,"c":2.670},{"i":582,"o":2.668,"h":2.670,"l":2.612,"c":2.639},{"i":583,"o":2.640,"h":2.663,"l":2.636,"c":2.661},{"i":584,"o":2.660,"h":2.662,"l":2.645,"c":2.647},{"i":585,"o":2.647,"h":2.662,"l":2.645,"c":2.659},{"i":586,"o":2.659,"h":2.668,"l":2.657,"c":2.666},{"i":587,"o":2.666,"h":2.667,"l":2.658,"c":2.660},{"i":588,"o":2.662,"h":2.667,"l":2.651,"c":2.653},{"i":589,"o":2.652,"h":2.667,"l":2.650,"c":2.664},
      {"i":590,"o":2.664,"h":2.665,"l":2.646,"c":2.648},{"i":591,"o":2.648,"h":2.651,"l":2.647,"c":2.650},{"i":592,"o":2.650,"h":2.652,"l":2.648,"c":2.649},{"i":593,"o":2.654,"h":2.673,"l":2.653,"c":2.671},{"i":594,"o":2.671,"h":2.678,"l":2.670,"c":2.675},{"i":595,"o":2.675,"h":2.678,"l":2.674,"c":2.677},{"i":596,"o":2.677,"h":2.679,"l":2.671,"c":2.672},{"i":597,"o":2.672,"h":2.678,"l":2.671,"c":2.677},{"i":598,"o":2.676,"h":2.677,"l":2.665,"c":2.666},{"i":599,"o":2.666,"h":2.671,"l":2.664,"c":2.670},
      {"i":600,"o":2.671,"h":2.676,"l":2.670,"c":2.675},{"i":601,"o":2.675,"h":2.676,"l":2.672,"c":2.673},{"i":602,"o":2.673,"h":2.675,"l":2.671,"c":2.674},{"i":603,"o":2.671,"h":2.672,"l":2.668,"c":2.670},{"i":604,"o":2.670,"h":2.672,"l":2.668,"c":2.669},{"i":605,"o":2.669,"h":2.670,"l":2.666,"c":2.668},{"i":606,"o":2.668,"h":2.669,"l":2.666,"c":2.668},{"i":607,"o":2.669,"h":2.670,"l":2.665,"c":2.666},{"i":608,"o":2.666,"h":2.668,"l":2.664,"c":2.667},{"i":609,"o":2.667,"h":2.669,"l":2.665,"c":2.668},
      {"i":610,"o":2.668,"h":2.670,"l":2.667,"c":2.669},{"i":611,"o":2.666,"h":2.672,"l":2.664,"c":2.671},{"i":612,"o":2.669,"h":2.673,"l":2.668,"c":2.672},{"i":613,"o":2.670,"h":2.681,"l":2.669,"c":2.679},{"i":614,"o":2.680,"h":2.682,"l":2.673,"c":2.674},{"i":615,"o":2.674,"h":2.676,"l":2.671,"c":2.672},{"i":616,"o":2.675,"h":2.678,"l":2.674,"c":2.677},{"i":617,"o":2.672,"h":2.681,"l":2.671,"c":2.680},{"i":618,"o":2.680,"h":2.682,"l":2.678,"c":2.679},{"i":619,"o":2.679,"h":2.680,"l":2.668,"c":2.669},
      {"i":620,"o":2.679,"h":2.680,"l":2.662,"c":2.663},{"i":621,"o":2.663,"h":2.690,"l":2.662,"c":2.672},{"i":622,"o":2.672,"h":2.702,"l":2.670,"c":2.700},{"i":623,"o":2.700,"h":2.702,"l":2.687,"c":2.689},{"i":624,"o":2.690,"h":2.714,"l":2.689,"c":2.713},{"i":625,"o":2.713,"h":2.725,"l":2.711,"c":2.724},{"i":626,"o":2.723,"h":2.747,"l":2.722,"c":2.746},{"i":627,"o":2.746,"h":2.759,"l":2.745,"c":2.753},{"i":628,"o":2.752,"h":2.754,"l":2.733,"c":2.734},{"i":629,"o":2.734,"h":2.742,"l":2.726,"c":2.741},
      {"i":630,"o":2.741,"h":2.742,"l":2.718,"c":2.719},{"i":631,"o":2.718,"h":2.739,"l":2.716,"c":2.738},{"i":632,"o":2.738,"h":2.751,"l":2.734,"c":2.750},{"i":633,"o":2.750,"h":2.775,"l":2.749,"c":2.774},{"i":634,"o":2.773,"h":2.781,"l":2.772,"c":2.780},{"i":635,"o":2.780,"h":2.790,"l":2.779,"c":2.785},{"i":636,"o":2.785,"h":2.787,"l":2.770,"c":2.772},{"i":637,"o":2.771,"h":2.775,"l":2.765,"c":2.774}
    ],
    "levels": [
      {"p": 2.856, "name": "M30[+1/8]"},
      {"p": 2.832, "name": "H4[+1/8] H1[+2/8] M30RES"},
      {"p": 2.808, "name": "M30[7/8]"},
      {"p": 2.783, "name": "H1[+1/8] M30[6/8]"},
      {"p": 2.759, "name": "M30[5/8]"},
      {"p": 2.734, "name": "W1[7/8] D1[6/8] H4RES H1RES M30PIVOT"},
      {"p": 2.710, "name": "M30[3/8]"},
      {"p": 2.686, "name": "H1[7/8] M30[2/8]"},
      {"p": 2.661, "name": "M30[1/8]"},
      {"p": 2.637, "name": "H4[7/8] H1[6/8] M30SUP"},
      {"p": 2.612, "name": "M30[-1/8]"},
      {"p": 2.588, "name": "H1[5/8] M30[-2/8]"}
    ],
    "bid": [{"p": 2.774}],
    "marks": [
      {"kind": "xmark", "i": 757.75, "p": 2.391},
      {"kind": "xmark", "i": 636.5, "p": 2.7344},
      {"kind": "cursor", "i": 47.4, "p": 2.4545},
      {"kind": "menu", "i": 2, "p": 2.8639},
      {"kind": "shift", "i": 638.5, "p": 2.8687},
      {"kind": "header", "i": 6.5, "p": 2.8637, "txt": "NATGAS,M30  2.771 2.775 2.765 2.774"}
    ]
  },
  "layer": [
    {
      "data": {"name": "levels"},
      "mark": {"type": "rule", "strokeWidth": 1.5},
      "encoding": {
        "y": {"field": "p", "type": "quantitative"},
        "color": {
          "field": "name", "type": "nominal", "legend": null,
          "scale": {
            "domain": ["M30[+1/8]", "H4[+1/8] H1[+2/8] M30RES", "M30[7/8]", "H1[+1/8] M30[6/8]", "M30[5/8]", "W1[7/8] D1[6/8] H4RES H1RES M30PIVOT", "M30[3/8]", "H1[7/8] M30[2/8]", "M30[1/8]", "H4[7/8] H1[6/8] M30SUP", "M30[-1/8]", "H1[5/8] M30[-2/8]"],
            "range": ["#FF00FF", "#1E90FF", "#FF8C00", "#FF4500", "#556B2F", "#1E90FF", "#556B2F", "#FF4500", "#FF8C00", "#1E90FF", "#FF00FF", "#C71585"]
          }
        },
        "strokeDash": {
          "field": "name", "type": "nominal", "legend": null,
          "scale": {
            "domain": ["M30[+1/8]", "H4[+1/8] H1[+2/8] M30RES", "M30[7/8]", "H1[+1/8] M30[6/8]", "M30[5/8]", "W1[7/8] D1[6/8] H4RES H1RES M30PIVOT", "M30[3/8]", "H1[7/8] M30[2/8]", "M30[1/8]", "H4[7/8] H1[6/8] M30SUP", "M30[-1/8]", "H1[5/8] M30[-2/8]"],
            "range": [[9, 4, 3, 8], [17, 7], [9, 4, 3, 8], [9, 4, 3, 8], [9, 4, 3, 8], [1, 0], [9, 4, 3, 8], [9, 4, 3, 8], [9, 4, 3, 8], [17, 7], [9, 4, 3, 8], [9, 4, 3, 8]]
          }
        }
      }
    },
    {
      "data": {"name": "bid"},
      "mark": {"type": "rule", "color": "#C0C0C0", "strokeWidth": 1.5},
      "encoding": {"y": {"field": "p", "type": "quantitative"}}
    },
    {
      "data": {"name": "levels"},
      "mark": {"type": "text", "fontSize": 21, "align": "center", "baseline": "middle", "dy": 11.5},
      "encoding": {
        "x": {"datum": 612, "type": "quantitative"},
        "y": {"field": "p", "type": "quantitative"},
        "text": {"field": "name"},
        "color": {"field": "name", "type": "nominal", "legend": null}
      }
    },
    {
      "data": {"name": "candles"},
      "mark": {"type": "rule", "color": "#000000", "strokeWidth": 1},
      "encoding": {
        "x": {
          "field": "i", "type": "quantitative",
          "scale": {"domain": [-1, 940], "nice": false, "zero": false},
          "axis": {
            "title": null,
            "values": [0, 16, 32, 48, 64, 80, 96, 112, 128, 144, 160, 176, 192, 208, 224, 240, 256, 272, 288, 304, 320, 336, 352, 368, 384, 400, 416, 432, 448, 464, 480, 496, 512, 528, 544, 560, 576, 592, 608, 624, 640, 656, 672, 688, 704, 720, 736, 752, 768, 784, 800, 816, 832, 848, 864, 880, 896, 912, 928],
            "labelExpr": "datum.value % 32 === 0 && datum.value <= 608 ? ['30 Apr 2024','30 Apr 19:30','1 May 12:30','2 May 05:30','2 May 21:30','3 May 14:30','6 May 07:30','6 May 23:30','7 May 16:30','8 May 09:30','9 May 02:30','9 May 18:30','10 May 11:30','13 May 04:30','13 May 20:30','14 May 13:30','15 May 06:30','15 May 22:30','16 May 15:30','17 May 08:30'][datum.value / 32] : ''",
            "labelAlign": "left",
            "labelBaseline": "top",
            "labelPadding": 4,
            "labelOffset": -6,
            "labelFontSize": 19,
            "labelFont": "Liberation Sans",
            "labelColor": "#000000",
            "labelOverlap": false,
            "labelFlush": false,
            "labelBound": false,
            "tickSize": 4,
            "tickColor": "#000000",
            "tickOpacity": {"condition": {"test": "datum.value % 32 === 0 && datum.value <= 608", "value": 1}, "value": 0},
            "domainColor": "#000000",
            "domainWidth": 1.5,
            "grid": true,
            "gridColor": "#C0C0C0",
            "gridDash": [4, 3],
            "gridWidth": 1
          }
        },
        "y": {
          "field": "l", "type": "quantitative",
          "scale": {"domain": [1.9889, 2.8709], "nice": false, "zero": false},
          "axis": {
            "title": null,
            "orient": "right",
            "values": [2.01, 2.04, 2.07, 2.1, 2.13, 2.16, 2.19, 2.22, 2.25, 2.28, 2.31, 2.34, 2.37, 2.4, 2.43, 2.46, 2.49, 2.52, 2.55, 2.58, 2.61, 2.64, 2.67, 2.7, 2.73, 2.76, 2.79, 2.82, 2.85],
            "format": ".3f",
            "labelFontSize": 19,
            "labelFont": "Liberation Sans",
            "labelColor": "#000000",
            "labelPadding": 6,
            "labelOverlap": false,
            "labelFlush": false,
            "labelBound": false,
            "tickSize": 4,
            "tickColor": "#000000",
            "domainColor": "#000000",
            "domainWidth": 1.5,
            "grid": true,
            "gridColor": "#C0C0C0",
            "gridDash": [4, 3],
            "gridWidth": 1
          }
        },
        "y2": {"field": "h"}
      }
    },
    {
      "data": {"name": "candles"},
      "mark": {"type": "bar", "width": 3, "stroke": "#000000", "strokeWidth": 1},
      "encoding": {
        "x": {"field": "i", "type": "quantitative"},
        "y": {"field": "o", "type": "quantitative"},
        "y2": {"field": "c"},
        "fill": {"condition": {"test": "datum.o > datum.c", "value": "#000000"}, "value": "#FFFFFF"}
      }
    },
    {
      "data": {"name": "bid"},
      "mark": {"type": "tick", "orient": "horizontal", "color": "#000000", "size": 59, "thickness": 23, "yOffset": 5, "opacity": 1},
      "encoding": {
        "x": {"datum": 948.1, "type": "quantitative"},
        "y": {"field": "p", "type": "quantitative"}
      }
    },
    {
      "data": {"name": "bid"},
      "mark": {"type": "text", "color": "#FFFFFF", "fontSize": 19, "align": "left", "baseline": "middle", "dy": 5},
      "encoding": {
        "x": {"datum": 942.5, "type": "quantitative"},
        "y": {"field": "p", "type": "quantitative"},
        "text": {"field": "p", "format": ".3f"}
      }
    },
    {
      "data": {"name": "levels"},
      "mark": {"type": "tick", "orient": "horizontal", "size": 59, "thickness": 23, "yOffset": 5, "opacity": 1},
      "encoding": {
        "x": {"datum": 948.1, "type": "quantitative"},
        "y": {"field": "p", "type": "quantitative"},
        "color": {"field": "name", "type": "nominal", "legend": null}
      }
    },
    {
      "data": {"name": "levels"},
      "mark": {"type": "text", "color": "#FFFFFF", "fontSize": 19, "align": "left", "baseline": "middle", "dy": 5},
      "encoding": {
        "x": {"datum": 942.5, "type": "quantitative"},
        "y": {"field": "p", "type": "quantitative"},
        "text": {"field": "p", "format": ".3f"}
      }
    },
    {
      "data": {"name": "marks"},
      "transform": [{"filter": "datum.kind === 'xmark'"}],
      "mark": {"type": "point", "shape": "M-0.6,-0.65L0.75,0.7M-1,0.9L1,-0.8", "filled": false, "stroke": "#FF4444", "strokeWidth": 6, "strokeCap": "round", "size": 1156, "opacity": 1},
      "encoding": {
        "x": {"field": "i", "type": "quantitative"},
        "y": {"field": "p", "type": "quantitative"}
      }
    },
    {
      "data": {"name": "marks"},
      "transform": [{"filter": "datum.kind === 'cursor'"}],
      "mark": {"type": "point", "shape": "M-0.6,-1L-0.6,0.6L-0.25,0.28L0.02,0.92L0.24,0.82L-0.02,0.2L0.42,0.2Z", "filled": true, "fill": "#FFFFFF", "stroke": "#000000", "strokeWidth": 1.5, "size": 1521, "opacity": 1},
      "encoding": {
        "x": {"field": "i", "type": "quantitative"},
        "y": {"field": "p", "type": "quantitative"}
      }
    },
    {
      "data": {"name": "marks"},
      "transform": [{"filter": "datum.kind === 'menu'"}],
      "mark": {"type": "point", "shape": "M-1,-0.45L1,-0.45L0,0.45Z", "filled": true, "color": "#000000", "size": 144, "opacity": 1},
      "encoding": {
        "x": {"field": "i", "type": "quantitative"},
        "y": {"field": "p", "type": "quantitative"}
      }
    },
    {
      "data": {"name": "marks"},
      "transform": [{"filter": "datum.kind === 'shift'"}],
      "mark": {"type": "point", "shape": "M-1,-0.45L1,-0.45L0,0.45Z", "filled": true, "color": "#A0A0A0", "size": 400, "opacity": 1},
      "encoding": {
        "x": {"field": "i", "type": "quantitative"},
        "y": {"field": "p", "type": "quantitative"}
      }
    },
    {
      "data": {"name": "marks"},
      "transform": [{"filter": "datum.kind === 'header'"}],
      "mark": {"type": "text", "color": "#000000", "fontSize": 19, "align": "left", "baseline": "middle"},
      "encoding": {
        "x": {"field": "i", "type": "quantitative"},
        "y": {"field": "p", "type": "quantitative"},
        "text": {"field": "txt"}
      }
    }
  ]
}
